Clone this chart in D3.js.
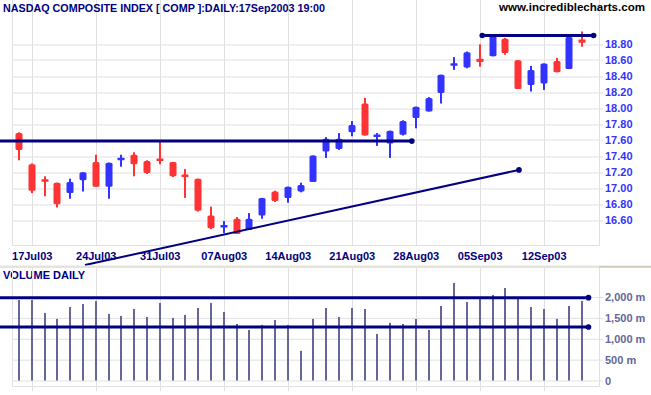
<!DOCTYPE html>
<html>
<head>
<meta charset="utf-8">
<script src="https://cdn.jsdelivr.net/npm/d3@7"></script>
<style>
  body { margin: 0; background: #fff; }
  svg { display: block; font-family: Arial, "Liberation Sans", sans-serif; font-weight: bold; }
</style>
</head>
<body>
<svg id="chart" width="651" height="395"></svg>
<script>
const dates = ["16Jul03","17Jul03","18Jul03","21Jul03","22Jul03","23Jul03","24Jul03","25Jul03","28Jul03","29Jul03",
  "30Jul03","31Jul03","01Aug03","04Aug03","05Aug03","06Aug03","07Aug03","08Aug03","11Aug03","12Aug03",
  "13Aug03","14Aug03","15Aug03","18Aug03","19Aug03","20Aug03","21Aug03","22Aug03","25Aug03","26Aug03",
  "27Aug03","28Aug03","29Aug03","02Sep03","03Sep03","04Sep03","05Sep03","08Sep03","09Sep03","10Sep03",
  "11Sep03","12Sep03","15Sep03","16Sep03","17Sep03"]
const open  = [17.68,17.29,17.09,17.06,16.93,17.09,17.32,17.01,17.33,17.41,17.33,17.35,17.32,17.15,17.11,
  16.65,16.50,16.61,16.47,16.65,16.95,16.87,16.95,17.07,17.45,17.48,17.69,18.05,17.63,17.55,
  17.66,17.87,17.95,18.18,18.52,18.50,18.61,18.64,18.86,18.59,18.28,18.30,18.58,18.48,18.85]
const high  = [17.69,17.30,17.14,17.06,17.11,17.19,17.41,17.31,17.41,17.44,17.34,17.57,17.32,17.23,17.11,
  16.76,16.58,16.63,16.68,16.87,16.96,17.01,17.06,17.40,17.63,17.68,17.83,18.12,17.68,17.71,
  17.84,18.01,18.13,18.41,18.63,18.70,18.79,18.90,18.87,18.59,18.52,18.55,18.62,18.89,18.95]
const low   = [17.34,16.93,16.89,16.75,16.86,16.95,17.01,16.86,17.26,17.14,17.17,17.29,17.13,16.87,16.70,
  16.48,16.43,16.42,16.47,16.61,16.82,16.81,16.94,17.07,17.37,17.47,17.64,17.65,17.52,17.37,
  17.65,17.74,17.95,18.05,18.47,18.49,18.51,18.64,18.66,18.23,18.20,18.22,18.44,18.48,18.76]
const close = [17.47,16.96,17.07,16.79,17.07,17.19,17.01,17.31,17.36,17.29,17.18,17.33,17.14,17.13,16.71,
  16.49,16.52,16.42,16.61,16.87,16.83,17.01,17.03,17.40,17.61,17.61,17.78,17.65,17.65,17.71,
  17.83,18.01,18.12,18.41,18.54,18.69,18.57,18.90,18.68,18.23,18.47,18.55,18.44,18.88,18.81]
// volume in millions
const volume = [1928,1928,1618,1474,1761,1833,1904,1594,1546,1713,1522,1857,1498,1570,1737,
  1857,1642,1355,1211,1331,1450,1331,710,1474,1737,1522,1737,1713,1115,1379,
  1355,1474,1211,1785,2335,1881,1976,2048,2215,2000,1761,1713,1474,1785,1904]

const tickDates = ["17Jul03","24Jul03","31Jul03","07Aug03","14Aug03","21Aug03","28Aug03","05Sep03","12Sep03"]
const priceTicks = [16.6,16.8,17.0,17.2,17.4,17.6,17.8,18.0,18.2,18.4,18.6,18.8]
const volumeTicks = [0,500,1000,1500,2000]
const volumeTickLabels = ["0","500 m","1,000 m","1,500 m","2,000 m"]

// drawn lines: [startIndex, startValue, endIndex, endValue]
const supportLine = [-1.5, 17.58, 30.7, 17.58]
const resistLine = [36.2, 18.90, 44.9, 18.90]
const trendLine = [5.16, 16.03, 39.07, 17.22]
const volLines = [[-1.5, 1985, 44.5, 1985], [-1.5, 1283, 44.5, 1283]]

const svg = d3.select('#chart')
const navy = '#000080', grid = '#e0e0e0'
const left = 12, right = 599, labelX = 603

const x = d3.scaleLinear().domain([0, 44]).range([18.9, 582.1])
const y = d3.scaleLinear().domain([16.6, 18.8]).range([219.5, 43.5])
const yv = d3.scaleLinear().domain([0, 2000]).range([380.5, 297])

const tickIdx = tickDates.map(t => dates.indexOf(t))
const px = v => Math.round(v) + 0.5

// ---------- price panel ----------
const gGrid = svg.append('g')
gGrid.selectAll('.vgrid').data(tickIdx).join('line')
    .attr('x1', d => px(x(d))).attr('x2', d => px(x(d)))
    .attr('y1', 0).attr('y2', 245)
    .attr('stroke', grid)

svg.append('g').attr('transform', `translate(${labelX},0)`)
    .call(d3.axisLeft(y).tickValues(priceTicks).tickSize(labelX - left).tickFormat(''))
    .call(g => g.select('.domain').remove())
    .call(g => g.selectAll('line').attr('stroke', grid).attr('transform', d => `translate(0,${px(y(d)) - y(d)})`))

gGrid.append('path')
    .attr('d', `M${left + 0.5},0V245.5H${right + 0.5}V0`)
    .attr('fill', 'none').attr('stroke', grid)

svg.append('g').attr('transform', `translate(${labelX},0)`)
    .call(d3.axisRight(y).tickValues(priceTicks).tickSize(0).tickPadding(2).tickFormat(d3.format('.2f')))
    .call(g => g.select('.domain').remove())
    .call(g => g.selectAll('text').attr('fill', '#3333ff').attr('font-size', 11)
        .attr('font-family', 'Arial, "Liberation Sans", sans-serif').attr('font-weight', 'bold'))

// date labels
svg.append('g').attr('transform', 'translate(0,245)')
    .call(d3.axisBottom(x).tickValues(tickIdx).tickSize(0).tickPadding(7).tickFormat(d => dates[d]))
    .call(g => g.select('.domain').remove())
    .call(g => g.selectAll('text').attr('fill', navy).attr('font-size', 11)
        .attr('font-family', 'Arial, "Liberation Sans", sans-serif').attr('font-weight', 'bold'))

// candles
const candles = dates.map((d, i) => ({i: i, o: open[i], h: high[i], l: low[i], c: close[i]}))
const gC = svg.append('g')
const cg = gC.selectAll('g').data(candles).join('g')
    .attr('fill', d => d.c >= d.o ? '#3333ff' : '#ff3333')
cg.append('rect')
    .attr('x', d => Math.round(x(d.i)) - 1)
    .attr('width', 2)
    .attr('y', d => y(d.h))
    .attr('height', d => y(d.l) - y(d.h))
cg.append('rect')
    .attr('x', d => Math.round(x(d.i)) - 3.5)
    .attr('width', 7)
    .attr('y', d => Math.min(y(d.o), y(d.c)) - (Math.abs(y(d.o) - y(d.c)) < 2.5 ? 1 : 0))
    .attr('height', d => Math.max(2.5, Math.abs(y(d.o) - y(d.c))))
    .attr('rx', d => Math.abs(y(d.o) - y(d.c)) > 5 ? 1.5 : 0.5)

// drawn lines on price panel
function drawLine(g, ln, ys, width, dots) {
    g.append('line')
        .attr('x1', x(ln[0])).attr('y1', ys(ln[1]))
        .attr('x2', x(ln[2])).attr('y2', ys(ln[3]))
        .attr('stroke', navy).attr('stroke-width', width)
    dots.forEach(k => {
        g.append('circle')
            .attr('cx', x(ln[k * 2])).attr('cy', ys(ln[k * 2 + 1]))
            .attr('r', 2.8).attr('fill', navy)
    })
}
const gL = svg.append('g')
drawLine(gL, supportLine, y, 3, [1])
drawLine(gL, resistLine, y, 3, [0, 1])
drawLine(gL, trendLine, y, 2, [1])

// titles
svg.append('text').attr('x', 3).attr('y', 11.5)
    .attr('fill', navy).attr('font-size', 11)
    .attr('textLength', 322).attr('lengthAdjust', 'spacingAndGlyphs')
    .text('NASDAQ COMPOSITE INDEX [ COMP ]:DAILY:17Sep2003 19:00')
svg.append('text').attr('x', 499).attr('y', 10.5)
    .attr('fill', '#000').attr('font-size', 11.5)
    .attr('textLength', 146).attr('lengthAdjust', 'spacingAndGlyphs')
    .text('www.incrediblecharts.com')

// separator
svg.append('rect').attr('x', 0).attr('y', 265.5).attr('width', 651).attr('height', 2.5).attr('fill', '#e4e4dc')
svg.append('rect').attr('x', right).attr('y', 266).attr('width', 651 - right).attr('height', 1.5).attr('fill', '#cfcbb8')

// ---------- volume panel ----------
svg.append('text').attr('x', 3).attr('y', 279)
    .attr('fill', navy).attr('font-size', 11)
    .text('VOLUME DAILY')

const gV = svg.append('g')
gV.selectAll('.vgrid').data(tickIdx).join('line')
    .attr('x1', d => px(x(d))).attr('x2', d => px(x(d)))
    .attr('y1', 268).attr('y2', 391)
    .attr('stroke', grid)

svg.append('g').attr('transform', `translate(${labelX},0)`)
    .call(d3.axisLeft(yv).tickValues(volumeTicks).tickSize(labelX - left).tickFormat(''))
    .call(g => g.select('.domain').remove())
    .call(g => g.selectAll('line').attr('stroke', grid))

gV.append('path')
    .attr('d', `M${left + 0.5},268V386.5H${right + 0.5}V268`)
    .attr('fill', 'none').attr('stroke', grid)

svg.append('g').attr('transform', `translate(${labelX},0)`)
    .call(d3.axisRight(yv).tickValues(volumeTicks).tickSize(0).tickPadding(2)
        .tickFormat((d, i) => volumeTickLabels[i]))
    .call(g => g.select('.domain').remove())
    .call(g => g.selectAll('text').attr('fill', '#666699').attr('font-size', 11)
        .attr('font-family', 'Arial, "Liberation Sans", sans-serif').attr('font-weight', 'bold'))

svg.append('g').selectAll('rect').data(volume).join('rect')
    .attr('x', (d, i) => Math.round(x(i)) - 1)
    .attr('width', 2)
    .attr('y', d => yv(d))
    .attr('height', d => yv(0) - yv(d))
    .attr('fill', '#666699')

const gVL = svg.append('g')
volLines.forEach(ln => drawLine(gVL, ln, yv, 3, [1]))
</script>
</body>
</html>
